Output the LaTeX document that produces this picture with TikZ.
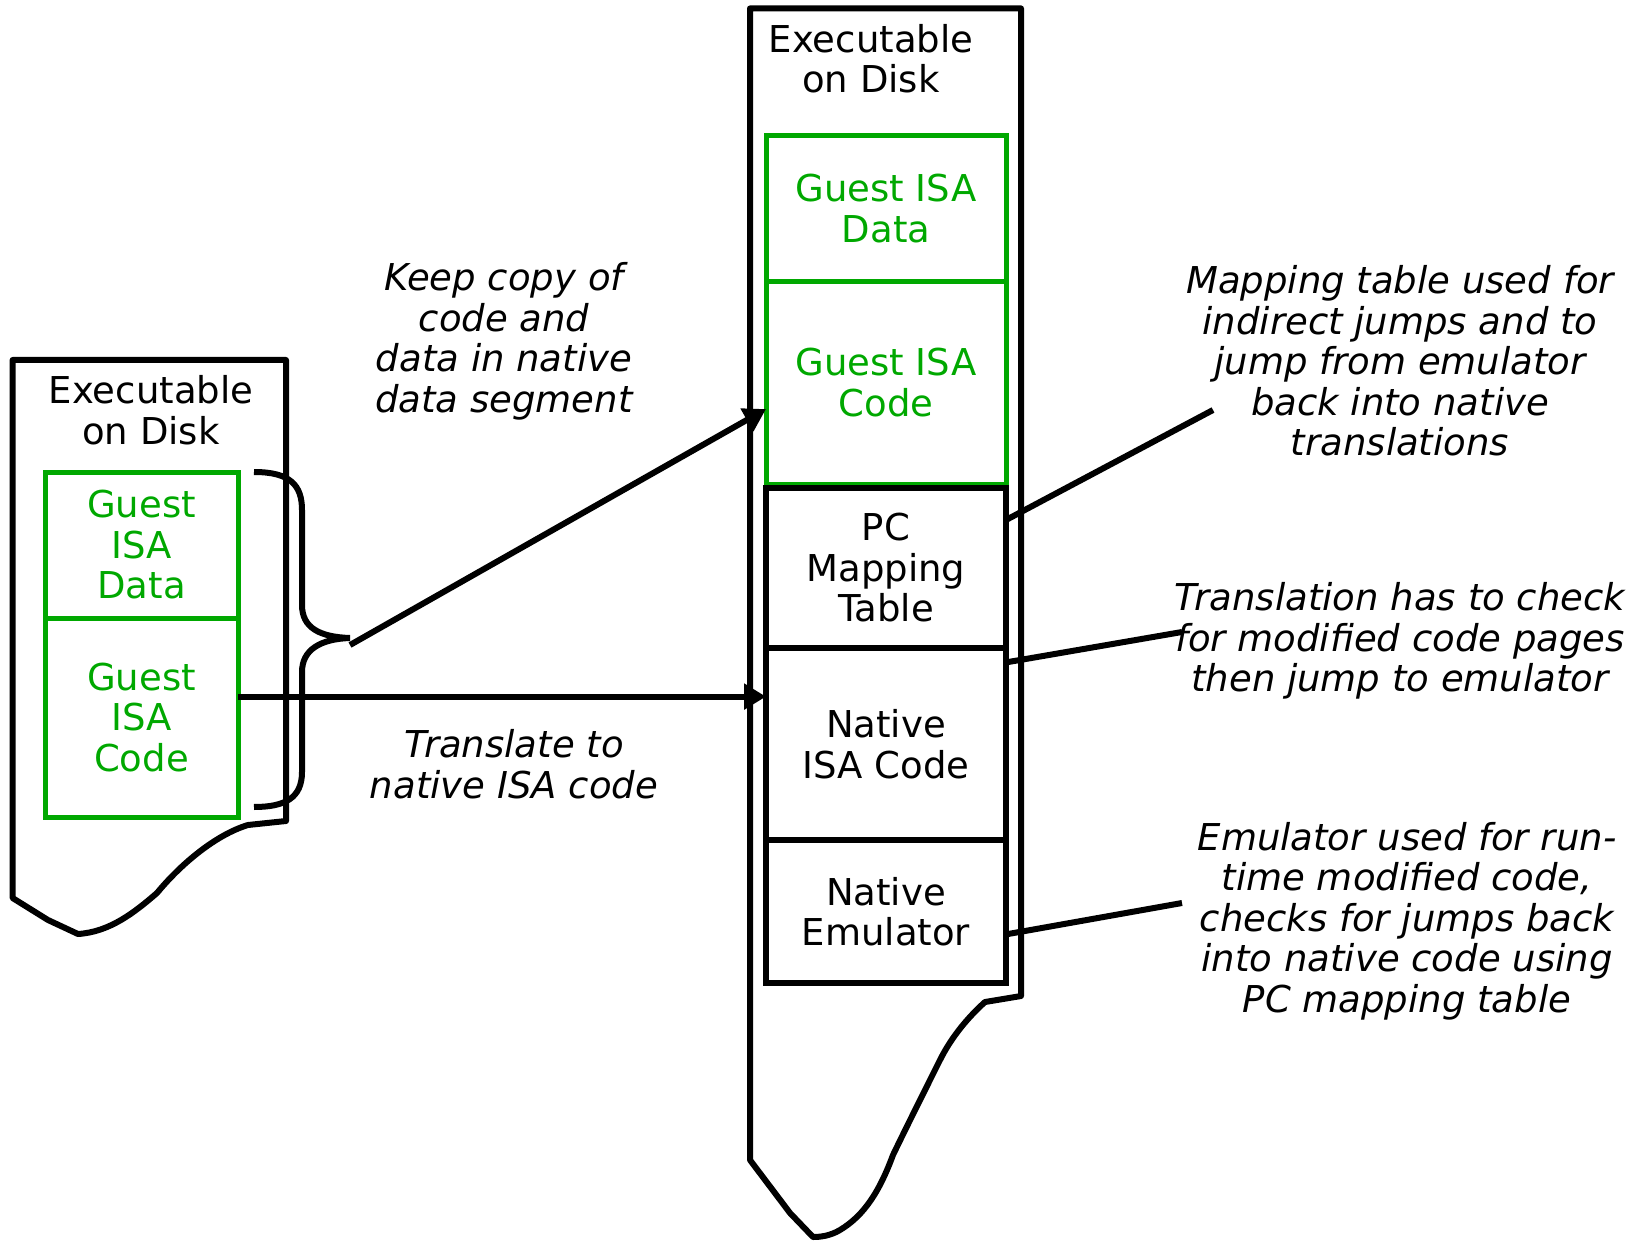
\documentclass[tikz,border=0pt]{standalone}
\usepackage{fontspec}
\setmainfont{DejaVu Sans}
\usetikzlibrary{arrows.meta,calc}
\definecolor{guestgreen}{RGB}{0,168,0}
\begin{document}
\begin{tikzpicture}[x=1pt,y=-1pt,
  txt/.style={font=\fontsize{37}{40.5}\selectfont, align=center, inner sep=0pt},
  note/.style={txt, font=\fontsize{37}{40.5}\selectfont\itshape},
  seg/.style={txt, draw, outer sep=0pt},
  guest/.style={seg, line width=5pt, draw=guestgreen, text=guestgreen},
  nativeseg/.style={seg, line width=6pt, draw=black},
  outline/.style={line width=6pt, line join=round},
  link/.style={line width=6pt},
  arr/.style={link, -{Triangle[length=22pt,width=25pt]}}
]
\useasboundingbox (0,0) rectangle (1647,1241);

% executable file on disk (left)
\draw[outline] (12.6,898) -- (12.6,360) -- (286,360) -- (286,821) -- (248,825)
  .. controls (215,835) and (180,865) .. (157,893)
  .. controls (135,912) and (110,932) .. (78,934) -- (48,920) -- cycle;
\node[txt] (ltitle) at (151,410) {Executable\\on Disk};
\node[guest, minimum width=193pt, minimum height=146pt] (ldata) at (141.5,545) {Guest\\ISA\\Data};
\node[guest, minimum width=193pt, minimum height=199pt] (lcode) at (141.5,717.5) {Guest\\ISA\\Code};

% translated executable on disk (right)
\draw[outline] (750,1160) -- (750,8.4) -- (1021,8.4) -- (1021,996) -- (985,1002)
  .. controls (965,1020) and (950,1040) .. (940,1060)
  .. controls (925,1090) and (905,1130) .. (893,1155)
  .. controls (880,1190) and (865,1215) .. (840,1230)
  .. controls (830,1236) and (820,1237) .. (813,1237) -- (790,1213) -- cycle;
\node[txt] (rtitle) at (871,58.5) {Executable\\on Disk};
\node[guest, minimum width=240pt, minimum height=146pt] (gdata) at (886,208.5) {Guest ISA\\Data};
\node[guest, minimum width=240pt, minimum height=202.5pt] (gcode) at (886,382.75) {Guest ISA\\Code};
\node[nativeseg, minimum width=240pt, minimum height=160pt] (pcmap) at (886,568) {PC\\Mapping\\Table};
\node[nativeseg, minimum width=240pt, minimum height=192pt] (ncode) at (886,744) {Native\\ISA Code};
\node[nativeseg, minimum width=240pt, minimum height=143pt] (emu) at (886,911.5) {Native\\Emulator};

% brace grouping the guest segments
\coordinate (btip) at (350,638);
\draw[link] (254,472) .. controls (290,472) and (302,485) .. (302,510) -- (302,605)
  .. controls (302,628) and (320,637) .. (btip)
  .. controls (320,639) and (302,650) .. (302,672) -- (302,772)
  .. controls (302,798) and (285,807) .. (254,807);

% annotations
\node[note] (keep) at (504,341.5) {Keep copy of\\code and\\data in native\\data segment};
\node[note] (transl) at (514,764) {Translate to\\native ISA code};
\node[note] (mapnote) at (1400,361) {Mapping table used for\\indirect jumps and to\\jump from emulator\\back into native\\translations};
\node[note] (checknote) at (1400,641) {Translation has to check\\for modified code pages\\then jump to emulator};
\node[note] (emunote) at (1407,921) {Emulator used for run-\\time modified code,\\checks for jumps back\\into native code using\\PC mapping table};

% arrows
\coordinate (bstart) at (350,645);
\draw[arr] (bstart) -- ($(gcode.north west)!0.63!(gcode.south west)$);
\coordinate (tstart) at ($(lcode.north east)!0.395!(lcode.south east)$);
\draw[arr] (tstart) -- (ncode.west |- tstart);

% callout lines
\coordinate (c1) at (1213,410);
\coordinate (c2) at (1182,632);
\coordinate (c3) at (1182,903);
\draw[link] ($(pcmap.north east)!0.2!(pcmap.south east)$) -- (c1);
\draw[link] ($(ncode.north east)!0.075!(ncode.south east)$) -- (c2);
\draw[link] ($(emu.north east)!0.66!(emu.south east)$) -- (c3);
\end{tikzpicture}
\end{document}
